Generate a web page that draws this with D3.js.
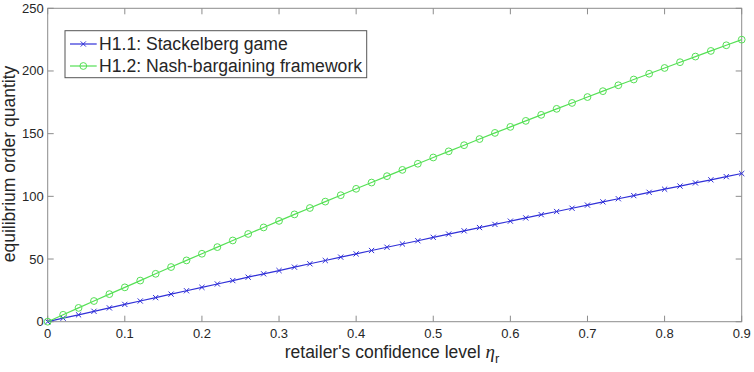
<!DOCTYPE html>
<html>
<head>
<meta charset="utf-8">
<script src="https://cdn.jsdelivr.net/npm/d3@7"></script>
<style>
  html, body { margin: 0; padding: 0; background: #fff; }
  svg { display: block; font-family: "Liberation Sans", Arial, sans-serif; }
</style>
</head>
<body>
<svg id="chart" width="754" height="372"></svg>
<script>
// retailer's confidence level, sampled every 0.02
const eta = [0, 0.02, 0.04, 0.06, 0.08, 0.1, 0.12, 0.14, 0.16, 0.18, 0.2, 0.22, 0.24, 0.26, 0.28, 0.3,
  0.32, 0.34, 0.36, 0.38, 0.4, 0.42, 0.44, 0.46, 0.48, 0.5, 0.52, 0.54, 0.56, 0.58, 0.6,
  0.62, 0.64, 0.66, 0.68, 0.7, 0.72, 0.74, 0.76, 0.78, 0.8, 0.82, 0.84, 0.86, 0.88, 0.9];

const stackelberg = [0, 2.8, 5.5, 8.3, 11.0, 13.8, 16.5, 19.2, 22.0, 24.7, 27.4, 30.1, 32.8, 35.5, 38.2, 40.8,
  43.5, 46.2, 48.8, 51.5, 54.1, 56.8, 59.4, 62.0, 64.6, 67.3, 69.9, 72.5, 75.1, 77.6, 80.2,
  82.8, 85.4, 87.9, 90.5, 93.0, 95.6, 98.1, 100.6, 103.2, 105.7, 108.2, 110.7, 113.2, 115.7, 118.2];

const nash = [0, 5.5, 11.0, 16.5, 22.0, 27.4, 32.8, 38.2, 43.6, 48.9, 54.2, 59.5, 64.8, 70.0, 75.2, 80.4,
  85.6, 90.7, 95.8, 100.9, 106.0, 111.0, 116.1, 121.1, 126.0, 131.0, 135.9, 140.8, 145.7, 150.6, 155.4,
  160.2, 165.0, 169.8, 174.5, 179.2, 183.9, 188.6, 193.2, 197.8, 202.4, 207.0, 211.5, 216.0, 220.5, 225.0];

const xTicks = [0, 0.1, 0.2, 0.3, 0.4, 0.5, 0.6, 0.7, 0.8, 0.9];
const yTicks = [0, 50, 100, 150, 200, 250];
const seriesNames = ['H1.1: Stackelberg game', 'H1.2: Nash-bargaining framework'];

const svg = d3.select('#chart');
const margin = {left: 47.7, right: 12.3, top: 8.3, bottom: 50.3};
const W = 754, H = 372;
const axisColor = '#8c8c8c';
const textColor = '#262626';

const x = d3.scaleLinear().domain([0, 0.9]).range([margin.left, W - margin.right]);
const y = d3.scaleLinear().domain([0, 250]).range([H - margin.bottom, margin.top]);

const series = [
  {name: seriesNames[0], values: stackelberg, color: '#3030d8', marker: 'x'},
  {name: seriesNames[1], values: nash, color: '#55e055', marker: 'o'}
];

// axes box with inward ticks on all sides (matlab style)
const tickLen = 6;
const g = svg.append('g');
g.append('rect')
  .attr('x', x(0)).attr('y', y(250))
  .attr('width', x(0.9) - x(0)).attr('height', y(0) - y(250))
  .attr('fill', 'none').attr('stroke', axisColor).attr('stroke-width', 1);

xTicks.forEach(function(t) {
  g.append('line').attr('x1', x(t)).attr('x2', x(t)).attr('y1', y(0)).attr('y2', y(0) - tickLen)
    .attr('stroke', axisColor);
  g.append('line').attr('x1', x(t)).attr('x2', x(t)).attr('y1', y(250)).attr('y2', y(250) + tickLen)
    .attr('stroke', axisColor);
  g.append('text').attr('x', x(t)).attr('y', y(0) + 16.5)
    .attr('text-anchor', 'middle').attr('font-size', 13).attr('fill', textColor)
    .text(d3.format('')(t));
});

yTicks.forEach(function(t) {
  g.append('line').attr('x1', x(0)).attr('x2', x(0) + tickLen).attr('y1', y(t)).attr('y2', y(t))
    .attr('stroke', axisColor);
  g.append('line').attr('x1', x(0.9)).attr('x2', x(0.9) - tickLen).attr('y1', y(t)).attr('y2', y(t))
    .attr('stroke', axisColor);
  g.append('text').attr('x', x(0) - 4).attr('y', y(t) + 4.5)
    .attr('text-anchor', 'end').attr('font-size', 13).attr('fill', textColor)
    .text(t);
});

// axis labels
const xl = svg.append('text')
  .attr('x', 392).attr('y', 358)
  .attr('text-anchor', 'middle').attr('font-size', 17.5).attr('fill', textColor);
xl.append('tspan').text("retailer's confidence level ");
xl.append('tspan').attr('font-family', '"Liberation Serif", "DejaVu Serif", serif')
  .attr('font-style', 'italic').attr('font-size', 19).text('η');
xl.append('tspan').attr('dy', 5).attr('font-size', 13).text('r');

svg.append('text')
  .attr('transform', 'translate(15,164) rotate(-90)')
  .attr('text-anchor', 'middle').attr('font-size', 17.5).attr('fill', textColor)
  .text('equilibrium order quantity');

// lines and markers
const line = d3.line()
  .x(function(d, i) { return x(eta[i]); })
  .y(function(d) { return y(d); });

function drawMarker(sel, type, cx, cy, color) {
  if (type === 'x') {
    const s = 2.6;
    sel.append('path')
      .attr('d', `M${cx - s},${cy - s}L${cx + s},${cy + s}M${cx - s},${cy + s}L${cx + s},${cy - s}`)
      .attr('stroke', color).attr('stroke-width', 1).attr('fill', 'none');
  } else {
    sel.append('circle').attr('cx', cx).attr('cy', cy).attr('r', 3.4)
      .attr('stroke', color).attr('stroke-width', 1).attr('fill', 'none');
  }
}

series.forEach(function(s) {
  const sg = svg.append('g');
  sg.append('path').datum(s.values)
    .attr('d', line).attr('fill', 'none').attr('stroke', s.color).attr('stroke-width', 1.2);
  s.values.forEach(function(v, i) {
    drawMarker(sg, s.marker, x(eta[i]), y(v), s.color);
  });
});

// legend
const lg = svg.append('g');
lg.append('rect').attr('x', 65).attr('y', 30.7).attr('width', 301.7).attr('height', 47)
  .attr('fill', '#fff').attr('stroke', '#555').attr('stroke-width', 1);
series.forEach(function(s, i) {
  const cy = 44 + i * 22;
  lg.append('line').attr('x1', 70).attr('x2', 96.7).attr('y1', cy).attr('y2', cy)
    .attr('stroke', s.color).attr('stroke-width', 1.2);
  drawMarker(lg, s.marker, 83.3, cy, s.color);
  lg.append('text').attr('x', 99).attr('y', cy + 6.2)
    .attr('font-size', 17.6).attr('fill', textColor).text(s.name);
});
</script>
</body>
</html>
